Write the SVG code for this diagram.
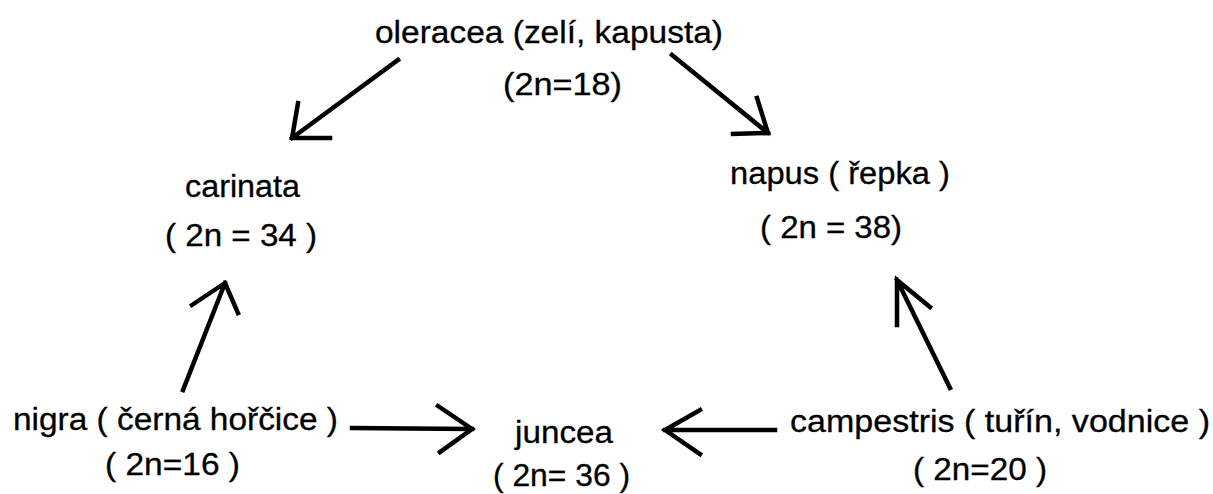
<svg xmlns="http://www.w3.org/2000/svg" width="1213" height="494" viewBox="0 0 1213 494">
<style>
text{font-family:"Liberation Sans",Arial,sans-serif;font-size:31px;fill:#000;stroke:#000;stroke-width:0.3}
.c path{fill:none;stroke:#000;stroke-width:4.5;stroke-linecap:square;stroke-linejoin:miter}
</style>
<rect width="1213" height="494" fill="#fff"/>
<g id="oleracea"><text x="375" y="43" textLength="348" lengthAdjust="spacingAndGlyphs">oleracea (zelí, kapusta)</text><text x="503" y="95" textLength="119" lengthAdjust="spacingAndGlyphs">(2n=18)</text></g>
<g id="carinata"><text x="185" y="197" textLength="115" lengthAdjust="spacingAndGlyphs">carinata</text><text x="165" y="246" textLength="152" lengthAdjust="spacingAndGlyphs">( 2n = 34 )</text></g>
<g id="napus"><text x="730" y="184" textLength="220" lengthAdjust="spacingAndGlyphs">napus ( řepka )</text><text x="760" y="238" textLength="142" lengthAdjust="spacingAndGlyphs">( 2n = 38)</text></g>
<g id="nigra"><text x="13" y="430" textLength="325" lengthAdjust="spacingAndGlyphs">nigra ( černá hořčice )</text><text x="105" y="475" textLength="135" lengthAdjust="spacingAndGlyphs">( 2n=16 )</text></g>
<g id="juncea"><text x="515" y="443" textLength="98" lengthAdjust="spacingAndGlyphs">juncea</text><text x="493" y="486" textLength="137" lengthAdjust="spacingAndGlyphs">( 2n= 36 )</text></g>
<g id="campestris"><text x="790" y="432" textLength="420" lengthAdjust="spacingAndGlyphs">campestris ( tuřín, vodnice )</text><text x="913" y="480" textLength="134" lengthAdjust="spacingAndGlyphs">( 2n=20 )</text></g>
<g id="connectors" class="c">
<path d="M398 60 L292 138 M298 103 L292 138 L330 138"/>
<path d="M672 55 L768 133 M757 98 L768 133 L733 134"/>
<path d="M183 390 L225 283 M192 305 L225 283 L238 313"/>
<path d="M950 388 L897 280 M897 325 L897 280 L930 307"/>
<path d="M352 428 L472 429 M438 406 L472 429 L440 452"/>
<path d="M775 430 L665 430 M700 410 L665 430 L700 454"/>
</g>
</svg>
